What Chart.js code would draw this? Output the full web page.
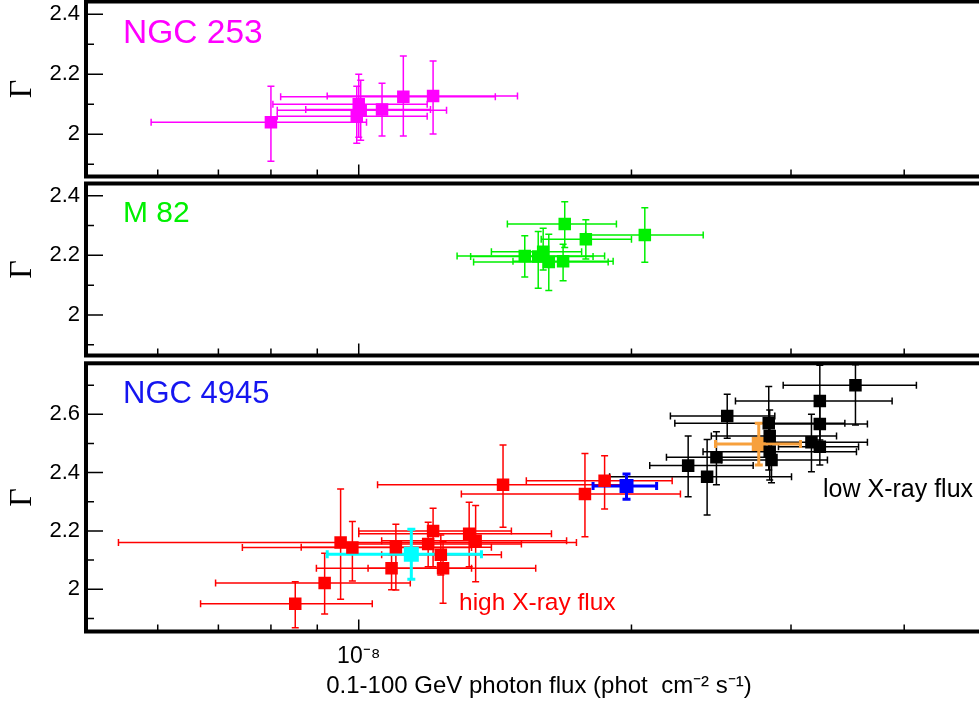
<!DOCTYPE html>
<html>
<head>
<meta charset="utf-8">
<script src="https://cdn.jsdelivr.net/npm/chart.js@4.4.0/dist/chart.umd.min.js"></script>
<style>
  html, body { margin: 0; padding: 0; background: #fff; }
  #wrap { position: relative; width: 979px; height: 702px; overflow: hidden; background: #fff; }
  canvas { position: absolute; left: 0; display: block; }
</style>
</head>
<body>
<div id="wrap">
  <canvas id="p1" width="1000" height="180" style="top:0"></canvas>
  <canvas id="p2" width="1000" height="178" style="top:180px"></canvas>
  <canvas id="p3" width="1000" height="344" style="top:358px"></canvas>
</div>
<script>
// x axis: 0.1-100 GeV photon flux, log scale
const fluxTicks = [6e-9, 7e-9, 8e-9, 9e-9, 1e-8, 2e-8, 3e-8, 4e-8];

// NGC 253
const ngc253Flux    = [8.0e-9, 1.0e-8, 1.005e-8, 9.95e-9, 1.061e-8, 1.12e-8, 1.208e-8];
const ngc253FluxLo  = [5.9e-9, 8.04e-9, 8.13e-9, 8.13e-9, 8.74e-9, 8.2e-9, 9.23e-9];
const ngc253FluxHi  = [1.02e-8, 1.19e-8, 1.25e-8, 1.19e-8, 1.20e-8, 1.415e-8, 1.497e-8];
const ngc253Gamma   = [2.04, 2.10, 2.08, 2.06, 2.083, 2.125, 2.128];
const ngc253GammaLo = [1.91, 1.99, 1.98, 1.97, 1.994, 1.994, 2.001];
const ngc253GammaHi = [2.16, 2.20, 2.18, 2.16, 2.17, 2.261, 2.244];

// M 82
const m82Flux    = [1.688e-8, 1.781e-8, 2.069e-8, 1.525e-8, 1.578e-8, 1.598e-8, 1.621e-8, 1.681e-8];
const m82FluxLo  = [1.459e-8, 1.59e-8, 1.78e-8, 1.284e-8, 1.329e-8, 1.401e-8, 1.339e-8, 1.48e-8];
const m82FluxHi  = [1.925e-8, 2.0e-8, 2.40e-8, 1.868e-8, 1.814e-8, 1.762e-8, 1.885e-8, 1.909e-8];
const m82Gamma   = [2.305, 2.254, 2.268, 2.198, 2.196, 2.212, 2.178, 2.18];
const m82GammaLo = [2.226, 2.188, 2.177, 2.127, 2.09, 2.151, 2.082, 2.115];
const m82GammaHi = [2.38, 2.319, 2.36, 2.266, 2.28, 2.291, 2.271, 2.237];

// NGC 4945, high X-ray flux intervals
const highFlux    = [8.51e-9, 9.17e-9, 9.55e-9, 9.84e-9, 1.087e-8, 1.099e-8, 1.193e-8, 1.208e-8, 1.232e-8, 1.239e-8, 1.324e-8, 1.346e-8, 1.443e-8, 1.777e-8, 1.868e-8];
const highFluxLo  = [6.69e-9, 6.95e-9, 5.43e-9, 7.44e-9, 8.98e-9, 8.64e-9, 9.45e-9, 1.0e-8, 1.06e-8, 1.024e-8, 1.0e-8, 1.06e-8, 1.049e-8, 1.298e-8, 1.531e-8];
const highFluxHi  = [1.035e-8, 1.14e-8, 1.739e-8, 1.332e-8, 1.332e-8, 1.401e-8, 1.512e-8, 1.474e-8, 1.437e-8, 1.568e-8, 1.632e-8, 1.696e-8, 1.975e-8, 2.265e-8, 2.218e-8];
const highGamma   = [1.95, 2.021, 2.16, 2.143, 2.072, 2.144, 2.155, 2.20, 2.118, 2.072, 2.19, 2.166, 2.358, 2.327, 2.372];
const highGammaLo = [1.868, 1.915, 1.966, 2.028, 1.998, 1.997, 2.077, 2.077, 2.049, 1.952, 2.077, 2.026, 2.213, 2.18, 2.275];
const highGammaHi = [2.026, 2.123, 2.344, 2.232, 2.118, 2.223, 2.23, 2.278, 2.186, 2.163, 2.298, 2.287, 2.495, 2.466, 2.458];

// NGC 4945, low X-ray flux intervals
const lowFlux    = [2.31e-8, 2.424e-8, 2.482e-8, 2.551e-8, 2.835e-8, 2.842e-8, 2.842e-8, 2.855e-8, 3.16e-8, 3.228e-8, 3.228e-8, 3.228e-8, 3.534e-8];
const lowFluxLo  = [2.095e-8, 1.892e-8, 2.186e-8, 2.208e-8, 2.233e-8, 2.45e-8, 2.399e-8, 2.514e-8, 2.748e-8, 2.906e-8, 2.855e-8, 2.605e-8, 2.941e-8];
const lowFluxHi  = [2.725e-8, 3.004e-8, 2.855e-8, 2.879e-8, 3.44e-8, 3.368e-8, 3.543e-8, 3.291e-8, 3.643e-8, 3.562e-8, 3.643e-8, 3.879e-8, 4.126e-8];
const lowGamma   = [2.424, 2.386, 2.453, 2.594, 2.569, 2.526, 2.472, 2.443, 2.504, 2.489, 2.567, 2.646, 2.70];
const lowGammaLo = [2.317, 2.255, 2.358, 2.518, 2.409, 2.426, 2.375, 2.365, 2.403, 2.426, 2.478, 2.512, 2.563];
const lowGammaHi = [2.526, 2.514, 2.540, 2.669, 2.695, 2.615, 2.58, 2.512, 2.60, 2.563, 2.649, 2.768, 2.77];

// NGC 4945, summed states: high (cyan), middle (blue), low (orange)
const sumFlux    = [1.143e-8, 1.975e-8, 2.764e-8];
const sumFluxLo  = [9.23e-9, 1.814e-8, 2.476e-8];
const sumFluxHi  = [1.366e-8, 2.132e-8, 3.073e-8];
const sumGamma   = [2.12, 2.354, 2.498];
const sumGammaLo = [2.034, 2.309, 2.426];
const sumGammaHi = [2.206, 2.395, 2.569];

const SANS = '"Liberation Sans", Arial, Helvetica, sans-serif';
const SERIF = '"Liberation Serif", "Times New Roman", serif';

function points(x, xl, xh, y, yl, yh) {
    return x.map((v, i) => ({ x: v, y: y[i], xMin: xl[i], xMax: xh[i], yMin: yl[i], yMax: yh[i] }));
}

// one point of the summed-state arrays
function sumPoint(i) {
    return [{ x: sumFlux[i], y: sumGamma[i], xMin: sumFluxLo[i], xMax: sumFluxHi[i], yMin: sumGammaLo[i], yMax: sumGammaHi[i] }];
}

// error bars drawn under the squares, positions from the chart scales
const errorBars = {
    id: 'errorBars',
    beforeDatasetsDraw(chart) {
        const { ctx, chartArea: a, scales: { x, y } } = chart;
        ctx.save();
        ctx.beginPath();
        ctx.rect(a.left, a.top, a.right - a.left, a.bottom - a.top);
        ctx.clip();
        chart.data.datasets.forEach(ds => {
            ctx.strokeStyle = ds.backgroundColor;
            ctx.lineWidth = ds.barWidth || 1.5;
            const cap = ds.capSize || 3.5;
            ds.data.forEach(p => {
                const px = x.getPixelForValue(p.x), py = y.getPixelForValue(p.y);
                const x0 = x.getPixelForValue(p.xMin), x1 = x.getPixelForValue(p.xMax);
                const y0 = y.getPixelForValue(p.yMin), y1 = y.getPixelForValue(p.yMax);
                ctx.beginPath();
                ctx.moveTo(x0, py); ctx.lineTo(x1, py);
                ctx.moveTo(x0, py - cap); ctx.lineTo(x0, py + cap);
                ctx.moveTo(x1, py - cap); ctx.lineTo(x1, py + cap);
                ctx.moveTo(px, y0); ctx.lineTo(px, y1);
                ctx.moveTo(px - cap, y0); ctx.lineTo(px + cap, y0);
                ctx.moveTo(px - cap, y1); ctx.lineTo(px + cap, y1);
                ctx.stroke();
            });
        });
        ctx.restore();
    }
};

// thick frame and inward tick marks
const frame = {
    id: 'frame',
    afterDraw(chart) {
        const { ctx, chartArea: a, scales: { x, y } } = chart;
        ctx.save();
        ctx.strokeStyle = '#000';
        ctx.lineWidth = 1.5;
        ctx.beginPath();
        y.ticks.forEach(t => {
            const py = y.getPixelForValue(t.value);
            if (py < a.top + 2 || py > a.bottom - 2) return;
            const major = Math.round(t.value * 10) % 2 === 0;
            ctx.moveTo(a.left, py);
            ctx.lineTo(a.left + (major ? 17 : 8), py);
        });
        fluxTicks.forEach(v => {
            const px = x.getPixelForValue(v);
            const major = Math.abs(Math.log10(v) + 8) < 1e-6;
            ctx.moveTo(px, a.bottom);
            ctx.lineTo(px, a.bottom - (major ? 12 : 7));
        });
        ctx.stroke();
        ctx.lineWidth = 4;
        ctx.strokeRect(a.left, a.top, a.right - a.left, a.bottom - a.top);
        ctx.restore();
    }
};

// galaxy names and annotations
const panelText = {
    id: 'panelText',
    afterDraw(chart, args, opts) {
        const ctx = chart.ctx;
        (opts.items || []).forEach(t => {
            ctx.save();
            ctx.font = t.font;
            ctx.fillStyle = t.color;
            ctx.textBaseline = 'alphabetic';
            ctx.fillText(t.text, t.x, t.y);
            ctx.restore();
        });
    }
};

function squares(label, data, color, size, extra) {
    return Object.assign({
        label: label,
        data: data,
        backgroundColor: color,
        borderColor: color,
        pointStyle: 'rect',
        pointRadius: size / 1.414,
        pointBorderWidth: 0,
        showLine: false
    }, extra || {});
}

function makePanel(id, cfg) {
    const xAxis = {
        type: 'logarithmic',
        min: 5e-9,
        max: 5e-8,
        display: cfg.showX,
        afterBuildTicks: s => { s.ticks = fluxTicks.map(v => ({ value: v })); },
        afterFit: s => {
            if (cfg.showX) s.height = cfg.xHeight;
            s.paddingLeft = 0;
            s.paddingRight = 0;
        },
        grid: { display: false, drawTicks: false },
        border: { display: false }
    };
    if (cfg.showX) {
        xAxis.ticks = {
            autoSkip: false,
            maxRotation: 0,
            padding: 11,
            color: '#000',
            font: { family: SANS, size: 23 },
            callback: v => (Math.abs(Math.log10(v) + 8) < 1e-6 ? '10\u207B\u2078' : '')
        };
        xAxis.title = {
            display: true,
            text: '0.1-100 GeV photon flux (phot  cm\u207B\u00B2 s\u207B\u00B9)',
            color: '#000',
            font: { family: SANS, size: 24 },
            padding: { top: 0, bottom: 1 }
        };
    }
    return new Chart(document.getElementById(id), {
        type: 'scatter',
        data: { datasets: cfg.datasets },
        options: {
            responsive: false,
            animation: false,
            events: [],
            layout: { autoPadding: false, padding: { top: cfg.padTop, bottom: cfg.padBottom, left: 0, right: 8 } },
            scales: {
                x: xAxis,
                y: {
                    min: cfg.yMin,
                    max: cfg.yMax,
                    afterFit: s => {
                        s.width = 86;
                        s.paddingTop = 0;
                        s.paddingBottom = 0;
                    },
                    grid: { display: false, drawTicks: false },
                    border: { display: false },
                    ticks: {
                        stepSize: 0.1,
                        includeBounds: false,
                        autoSkip: false,
                        padding: 6,
                        color: '#000',
                        font: { family: SANS, size: 22 },
                        callback: v => (Math.round(v * 10) % 2 === 0 ? String(+v.toFixed(1)) : '')
                    },
                    title: {
                        display: true,
                        text: '\u0393',
                        color: '#000',
                        font: { family: SERIF, size: 32 },
                        padding: { top: 3, bottom: 0 }
                    }
                }
            },
            plugins: {
                legend: { display: false },
                tooltip: { enabled: false },
                panelText: { items: cfg.texts }
            }
        },
        plugins: [errorBars, frame, panelText]
    });
}

makePanel('p1', {
    yMin: 1.8593, yMax: 2.4427, padTop: 1.5, padBottom: 3.5, showX: false,
    datasets: [
        squares('NGC 253', points(ngc253Flux, ngc253FluxLo, ngc253FluxHi, ngc253Gamma, ngc253GammaLo, ngc253GammaHi), '#ff00ff', 12.5)
    ],
    texts: [{ text: 'NGC 253', x: 123, y: 43, font: '33.5px ' + SANS, color: '#ff00ff' }]
});

makePanel('p2', {
    yMin: 1.864, yMax: 2.441, padTop: 3.5, padBottom: 2.5, showX: false,
    datasets: [
        squares('M 82', points(m82Flux, m82FluxLo, m82FluxHi, m82Gamma, m82GammaLo, m82GammaHi), '#00f000', 12.5)
    ],
    texts: [{ text: 'M 82', x: 123, y: 42, font: '30px "Liberation Sans Narrow", ' + SANS, color: '#00f000' }]
});

makePanel('p3', {
    yMin: 1.855, yMax: 2.775, padTop: 5.3, padBottom: 0, showX: true, xHeight: 70.5,
    datasets: [
        squares('high X-ray flux', points(highFlux, highFluxLo, highFluxHi, highGamma, highGammaLo, highGammaHi), '#ff0000', 12.5),
        squares('low X-ray flux', points(lowFlux, lowFluxLo, lowFluxHi, lowGamma, lowGammaLo, lowGammaHi), '#000000', 12.5),
        squares('high state', sumPoint(0), '#00ffff', 15, { barWidth: 3, capSize: 4 }),
        squares('middle state', sumPoint(1), '#0000ff', 14, { barWidth: 3, capSize: 4 }),
        squares('low state', sumPoint(2), '#f7a03c', 14, { barWidth: 3, capSize: 4 })
    ],
    texts: [
        { text: 'NGC 4945', x: 123, y: 45, font: '31px ' + SANS, color: '#1515f0' },
        { text: 'low X-ray flux', x: 823, y: 139, font: '25px ' + SANS, color: '#000' },
        { text: 'high X-ray flux', x: 459, y: 252, font: '24.5px ' + SANS, color: '#ff0000' }
    ]
});
</script>
</body>
</html>
